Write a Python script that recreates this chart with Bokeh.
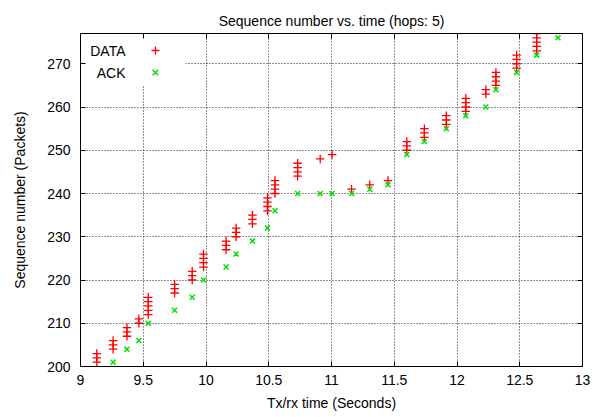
from bokeh.plotting import figure
from bokeh.models import (Range1d, LinearAxis, FixedTicker, Legend, LegendItem, Label,
                          BoxAnnotation, CustomJSTickFormatter)
from bokeh.core.properties import value
from bokeh.embed import file_html
from bokeh.resources import INLINE

# ---- data ----
data_cluster_time = [9.13, 9.26, 9.37, 9.465, 9.54, 9.75, 9.89, 9.98, 10.16, 10.24, 10.37,
                     10.49, 10.55, 10.73, 10.91, 11.005, 11.16, 11.305, 11.45, 11.6, 11.74,
                     11.915, 12.07, 12.23, 12.31, 12.475, 12.635]
data_cluster_seq = [[201, 202, 203], [204, 205, 206], [207, 208, 209], [210, 211],
                    [212, 213, 214, 215, 216], [217, 218, 219], [220, 221, 222],
                    [223, 224, 225, 226], [227, 228, 229], [230, 231, 232], [233, 234, 235],
                    [236, 237, 238, 239], [240, 241, 242, 243], [244, 245, 246, 247],
                    [248], [249], [241], [242], [243], [250, 251, 252], [253, 254, 255],
                    [256, 257, 258], [259, 260, 261, 262], [263, 264], [265, 266, 267, 268],
                    [269, 270, 271, 272], [273, 274, 275, 276, 277]]

ack_time = [9.26, 9.37, 9.465, 9.54, 9.75, 9.89, 9.98, 10.16, 10.24, 10.37, 10.49, 10.55,
            10.73, 10.91, 11.005, 11.16, 11.305, 11.45, 11.6, 11.74, 11.915, 12.07, 12.23,
            12.31, 12.475, 12.635, 12.805]
ack_seq = [201, 204, 206, 210, 213, 216, 220, 223, 226, 229, 232, 236,
           240, 240, 240, 240, 241, 242, 249, 252, 255, 258, 260,
           264, 268, 272, 276]

x_ticks = [9, 9.5, 10, 10.5, 11, 11.5, 12, 12.5, 13]
x_tick_labels = ["9", "9.5", "10", "10.5", "11", "11.5", "12", "12.5", "13"]
y_ticks = [200, 210, 220, 230, 240, 250, 260, 270]

data_time = [t for t, seqs in zip(data_cluster_time, data_cluster_seq) for _ in seqs]
data_seq = [s for seqs in data_cluster_seq for s in seqs]

FONT = "Liberation Sans"

p = figure(width=603, height=417, output_backend="svg", toolbar_location=None,
           x_range=Range1d(9, 13), y_range=Range1d(200, 277),
           min_border_left=80, min_border_right=21, min_border_top=33, min_border_bottom=51,
           title="Sequence number vs. time (hops: 5)")
p.background_fill_color = "white"
p.border_fill_color = "white"
p.outline_line_color = "black"
p.outline_line_width = 1

p.title.align = "center"
p.title.text_font = FONT
p.title.text_font_size = "14px"
p.title.text_font_style = "normal"
p.title.text_color = "black"

for ax in (p.xaxis[0], p.yaxis[0]):
    ax.major_tick_in = 5
    ax.major_tick_out = 0
    ax.minor_tick_in = 0
    ax.minor_tick_out = 0
    ax.major_label_text_font = FONT
    ax.major_label_text_font_size = "14px"
    ax.major_label_text_color = "black"
    ax.axis_label_text_font = FONT
    ax.axis_label_text_font_size = "14px"
    ax.axis_label_text_font_style = "normal"
    ax.axis_label_text_color = "black"
    ax.axis_line_color = "black"
    ax.major_tick_line_color = "black"

p.xaxis[0].ticker = FixedTicker(ticks=x_ticks)
p.xaxis[0].major_label_overrides = dict(zip(x_ticks, x_tick_labels))
p.xaxis[0].axis_label = "Tx/rx time (Seconds)"
p.xaxis[0].major_label_standoff = 8
p.xaxis[0].axis_label_standoff = 7
p.yaxis[0].ticker = FixedTicker(ticks=y_ticks)
p.yaxis[0].axis_label = "Sequence number (Packets)"
p.yaxis[0].major_label_standoff = 10
p.yaxis[0].axis_label_standoff = 16

# mirrored inward ticks on top and right
empty = CustomJSTickFormatter(code="return ''")
top_ax = LinearAxis(ticker=FixedTicker(ticks=x_ticks), formatter=empty,
                    major_tick_in=5, major_tick_out=0, minor_tick_in=0, minor_tick_out=0,
                    major_label_standoff=0, axis_line_color="black")
right_ax = LinearAxis(ticker=FixedTicker(ticks=y_ticks), formatter=empty,
                      major_tick_in=5, major_tick_out=0, minor_tick_in=0, minor_tick_out=0,
                      major_label_standoff=0, axis_line_color="black")
p.add_layout(top_ax, "above")
p.add_layout(right_ax, "right")

p.xgrid.ticker = FixedTicker(ticks=x_ticks)
p.ygrid.ticker = FixedTicker(ticks=y_ticks)
for g in (p.xgrid[0], p.ygrid[0]):
    g.grid_line_color = "#222222"
    g.grid_line_alpha = 1.0
    g.grid_line_dash = "1 2"
    g.grid_line_width = 1

# opaque key area (hides grid under the key)
mask = BoxAnnotation(left=0, right=105, top=333, bottom=281,
                     left_units="screen", right_units="screen",
                     top_units="screen", bottom_units="screen",
                     fill_color="white", fill_alpha=1, line_color=None, level="underlay")
p.add_layout(mask)

r_data = p.scatter(data_time, data_seq, marker="cross", size=8.5, line_color="#ff0000",
                   line_width=1.3)
r_ack = p.scatter(ack_time, ack_seq, marker="x", size=7, line_color="#00e000",
                  line_width=1.5)

legend = Legend(items=[LegendItem(label=value(" "), renderers=[r_data]),
                       LegendItem(label=value(" "), renderers=[r_ack])],
                location=(65, 284), padding=0, margin=0, spacing=2,
                glyph_width=20, glyph_height=20, label_height=20, label_width=0,
                label_standoff=0, border_line_color=None, background_fill_alpha=0,
                label_text_font_size="14px")
p.add_layout(legend)

for txt, yy in (("DATA", 316), ("ACK", 294)):
    p.add_layout(Label(x=45, y=yy, x_units="screen", y_units="screen", text=txt,
                       text_align="right", text_baseline="middle",
                       text_font=FONT, text_font_size="14px", text_color="black"))

open("out.html", "w").write(file_html(p, INLINE))
